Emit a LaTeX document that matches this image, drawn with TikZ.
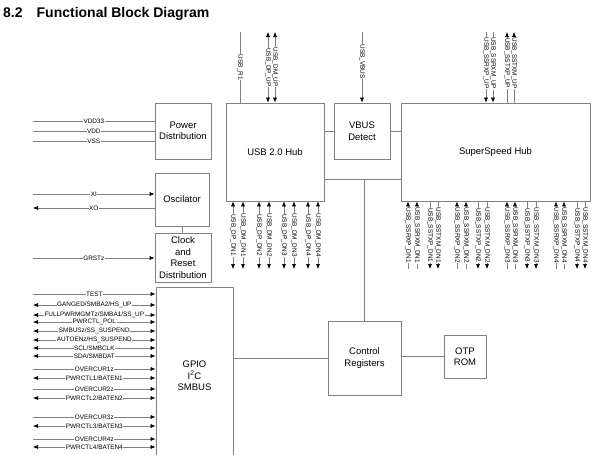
\documentclass[tikz,border=0pt]{standalone}
\usepackage{fontspec}
\setmainfont{Liberation Sans}
\usetikzlibrary{positioning, arrows.meta}
\definecolor{wiregray}{RGB}{128,128,128}

\begin{document}
\begin{tikzpicture}[x=1pt, y=-1pt,
			block/.style={draw=wiregray, line width=0.7pt, fill=white, align=center, inner sep=0pt, font=\fontsize{9.5}{11.5}\selectfont},
			wire/.style={draw=wiregray, line width=0.6pt},
			pinlbl/.style={fill=white, inner sep=0.5pt, font=\fontsize{6.4}{7}\selectfont},
			vlbl/.style={pinlbl, rotate=-90},
			>={Latex[length=5pt, width=4pt, color=black]},
			]
			\useasboundingbox (0,0) rectangle (600,455);
			
			%% ── Title ──────────────────────────────────────────────────────────────
			\node[anchor=base west, inner sep=0pt, font=\fontsize{14}{16}\selectfont\bfseries] (title) at (3,17) {8.2\hspace{14pt}Functional Block Diagram};
			
			%% ── Blocks ─────────────────────────────────────────────────────────────
			\node[block, minimum width=56, minimum height=56] (pwr)  at (183,131)   {Power\\Distribution};
			\node[block, minimum width=54, minimum height=53] (osc)  at (182,199.5) {Oscilator};
			\node[block, minimum width=56, minimum height=49] (clk)  at (183,257.5) {Clock\\and\\Reset\\Distribution};
			\node[block, minimum width=77, minimum height=178] (gpio) at (194.5,376) {GPIO\\I\textsuperscript{2}C\\SMBUS};
			\node[block, minimum width=98, minimum height=98] (usb2) at (275,152)   {USB 2.0 Hub};
			\node[block, minimum width=56, minimum height=56] (vbus) at (362,131)   {VBUS\\Detect};
			\node[block, minimum width=189, minimum height=98] (ss) at (495.5,152) {SuperSpeed Hub};
			\node[block, minimum width=73, minimum height=74] (ctrl) at (364.5,358) {Control\\Registers};
			\node[block, minimum width=42, minimum height=43] (otp)  at (465,356.5) {OTP\\ROM};
			
			%% ── Internal connections ───────────────────────────────────────────────
			\coordinate (bus) at (364.5,179);
			\draw[wire] (vbus.west) -- (vbus.west -| usb2.east);
			\draw[wire] (vbus.east) -- (vbus.east -| ss.west);
			\draw[wire] (bus -| usb2.east) -- (bus -| ss.west);
			\draw[wire] (bus) -- (ctrl.north);
			\draw[wire] (ctrl.west) -- (ctrl.west -| gpio.east);
			\draw[wire] (otp.west) -- (otp.west -| ctrl.east);
			\draw[wire] (osc.south) -- (osc.south |- clk.north);
			
			%% ── Power, clock and reset pins ────────────────────────────────────────
			\coordinate (vdd33) at (33,121); \draw[wire] (vdd33) -- node[pinlbl] {VDD33} (vdd33 -| pwr.west);
			\coordinate (vdd)   at (33,131); \draw[wire] (vdd)   -- node[pinlbl] {VDD}   (vdd -| pwr.west);
			\coordinate (vss)   at (33,141); \draw[wire] (vss)   -- node[pinlbl] {VSS}   (vss -| pwr.west);
			\coordinate (xi)    at (33,194); \draw[wire,->] (xi) -- node[pinlbl] {XI} (xi -| osc.west);
			\coordinate (xo)    at (33,208); \draw[wire,<-] (xo) -- node[pinlbl] {XO} (xo -| osc.west);
			\coordinate (grst)  at (33,258); \draw[wire,->] (grst) -- node[pinlbl] {GRSTz} (grst -| clk.west);
			
			%% ── GPIO / SMBus pins ──────────────────────────────────────────────────
			\coordinate (g1)  at (33,294); \draw[wire,->]  (g1)  -- node[pinlbl] {TEST} (g1 -| gpio.west);
			\coordinate (g2)  at (33,305); \draw[wire,<->] (g2)  -- node[pinlbl] {GANGED/SMBA2/HS\_UP} (g2 -| gpio.west);
			\coordinate (g3)  at (33,315); \draw[wire,<->] (g3)  -- node[pinlbl] {FULLPWRMGMTz/SMBA1/SS\_UP} (g3 -| gpio.west);
			\coordinate (g4)  at (33,322); \draw[wire,<->] (g4)  -- node[pinlbl] {PWRCTL\_POL} (g4 -| gpio.west);
			\coordinate (g5)  at (33,331); \draw[wire,<->] (g5)  -- node[pinlbl] {SMBUSz/SS\_SUSPEND} (g5 -| gpio.west);
			\coordinate (g6)  at (33,340); \draw[wire,<->] (g6)  -- node[pinlbl] {AUTOENz/HS\_SUSPEND} (g6 -| gpio.west);
			\coordinate (g7)  at (33,348); \draw[wire,<->] (g7)  -- node[pinlbl] {SCL/SMBCLK} (g7 -| gpio.west);
			\coordinate (g8)  at (33,356); \draw[wire,<->] (g8)  -- node[pinlbl] {SDA/SMBDAT} (g8 -| gpio.west);
			\coordinate (g9)  at (33,369); \draw[wire,->]  (g9)  -- node[pinlbl] {OVERCUR1z} (g9 -| gpio.west);
			\coordinate (g10) at (33,378); \draw[wire,<->] (g10) -- node[pinlbl] {PWRCTL1/BATEN1} (g10 -| gpio.west);
			\coordinate (g11) at (33,389); \draw[wire,->]  (g11) -- node[pinlbl] {OVERCUR2z} (g11 -| gpio.west);
			\coordinate (g12) at (33,398); \draw[wire,<->] (g12) -- node[pinlbl] {PWRCTL2/BATEN2} (g12 -| gpio.west);
			\coordinate (g13) at (33,417); \draw[wire,->]  (g13) -- node[pinlbl] {OVERCUR3z} (g13 -| gpio.west);
			\coordinate (g14) at (33,426); \draw[wire,<->] (g14) -- node[pinlbl] {PWRCTL3/BATEN3} (g14 -| gpio.west);
			\coordinate (g15) at (33,439); \draw[wire,->]  (g15) -- node[pinlbl] {OVERCUR4z} (g15 -| gpio.west);
			\coordinate (g16) at (33,447); \draw[wire,<->] (g16) -- node[pinlbl] {PWRCTL4/BATEN4} (g16 -| gpio.west);
			
			%% ── Upstream pins ──────────────────────────────────────────────────────
			\coordinate (ri)   at (240,32); \draw[wire]     (ri)   -- node[vlbl] {USB\_R1} (ri |- usb2.north);
			\coordinate (dpup) at (268,32); \draw[wire,<->] (dpup) -- node[vlbl] {USB\_DP\_UP} (dpup |- usb2.north);
			\coordinate (dmup) at (275,32); \draw[wire,<->] (dmup) -- node[vlbl] {USB\_DM\_UP} (dmup |- usb2.north);
			\coordinate (vbin) at (362,32); \draw[wire,->]  (vbin) -- node[vlbl, pos=0.42] {USB\_VBUS} (vbin |- vbus.north);
			\coordinate (rxpu) at (486,32); \draw[wire,->]  (rxpu) -- node[vlbl, pos=0.44] {USB\_SSRXP\_UP} (rxpu |- ss.north);
			\coordinate (rxmu) at (493,32); \draw[wire,->]  (rxmu) -- node[vlbl, pos=0.44] {USB\_SSRXM\_UP} (rxmu |- ss.north);
			\coordinate (txpu) at (507,32); \draw[wire,<-]  (txpu) -- node[vlbl, pos=0.44] {USB\_SSTXP\_UP} (txpu |- ss.north);
			\coordinate (txmu) at (514,32); \draw[wire,<-]  (txmu) -- node[vlbl, pos=0.44] {USB\_SSTXM\_UP} (txmu |- ss.north);
			
			%% ── Downstream pins ────────────────────────────────────────────────────
			\foreach \x/\txt in {233/USB\_DP\_DN1, 243/USB\_DM\_DN1, 259/USB\_DP\_DN2, 269/USB\_DM\_DN2,
				284/USB\_DP\_DN3, 294/USB\_DM\_DN3, 308/USB\_DP\_DN4, 318/USB\_DM\_DN4}{
				\coordinate (hs\x) at (\x,269);
				\draw[wire,<->] (hs\x |- usb2.south) -- node[vlbl] {\txt} (hs\x);
			}
			\foreach \x/\txt in {408/USB\_SSRXP\_DN1, 417/USB\_SSRXM\_DN1, 457/USB\_SSRXP\_DN2, 466/USB\_SSRXM\_DN2,
				507/USB\_SSRXP\_DN3, 515/USB\_SSRXM\_DN3, 556/USB\_SSRXP\_DN4, 564/USB\_SSRXM\_DN4}{
				\coordinate (rx\x) at (\x,269);
				\draw[wire,<-] (rx\x |- ss.south) -- node[vlbl] {\txt} (rx\x);
			}
			\foreach \x/\txt in {430/USB\_SSTXP\_DN1, 438/USB\_SSTXM\_DN1, 478/USB\_SSTXP\_DN2, 487/USB\_SSTXM\_DN2,
				527/USB\_SSTXP\_DN3, 536/USB\_SSTXM\_DN3, 577/USB\_SSTXP\_DN4, 585/USB\_SSTXM\_DN4}{
				\coordinate (tx\x) at (\x,269);
				\draw[wire,->] (tx\x |- ss.south) -- node[vlbl] {\txt} (tx\x);
			}
			
		\end{tikzpicture}
\end{document}
